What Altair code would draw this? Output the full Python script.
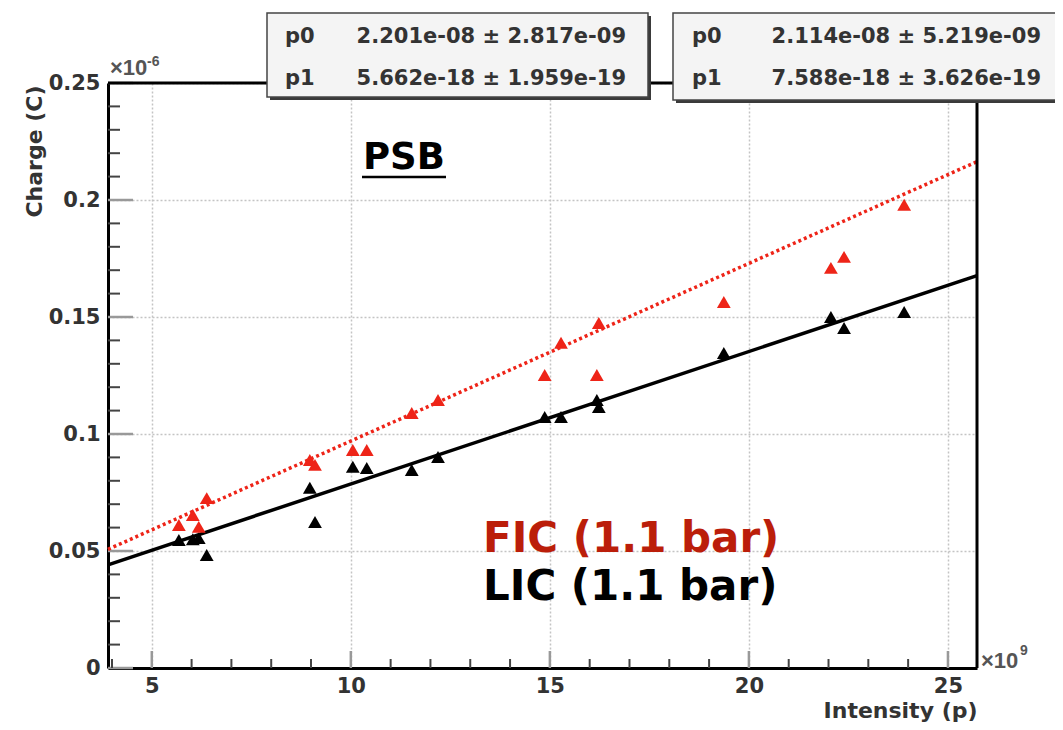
import altair as alt
import pandas as pd

# ---- data (x in 1e9 p, y in 1e-6 C) ----
intensity = [5.68, 6.03, 6.18, 6.38, 8.97, 9.10, 10.05, 10.40, 11.53, 12.19,
             14.87, 15.28, 16.18, 16.23, 19.37, 22.06, 22.39, 23.90]
lic_charge = [0.0547, 0.0550, 0.0555, 0.0483, 0.0770, 0.0624, 0.0860, 0.0855, 0.0846, 0.0902,
              0.1073, 0.1073, 0.1145, 0.1115, 0.1346, 0.1500, 0.1453, 0.1521]
fic_charge = [0.0611, 0.0654, 0.0603, 0.0726, 0.0889, 0.0868, 0.0932, 0.0932, 0.1090, 0.1145,
              0.1252, 0.1390, 0.1252, 0.1474, 0.1564, 0.1710, 0.1757, 0.1980]

fit_x = [3.9, 25.73]
lic_fit = [0.0441, 0.1677]
fic_fit = [0.0507, 0.2164]

x_domain = [3.9, 25.73]
y_domain = [0, 0.25]
x_major = [5, 10, 15, 20, 25]
y_major = [0, 0.05, 0.1, 0.15, 0.2, 0.25]
x_minor = [4, 6, 7, 8, 9, 11, 12, 13, 14, 16, 17, 18, 19, 21, 22, 23, 24]
y_minor = [0.01, 0.02, 0.03, 0.04, 0.06, 0.07, 0.08, 0.09, 0.11, 0.12, 0.13, 0.14,
           0.16, 0.17, 0.18, 0.19, 0.21, 0.22, 0.23, 0.24]

box_params = ["p0", "p1"]
lic_box_vals = ["2.201e-08 \u00b1 2.817e-09", "5.662e-18 \u00b1 1.959e-19"]
fic_box_vals = ["2.114e-08 \u00b1 5.219e-09", "7.588e-18 \u00b1 3.626e-19"]

W, H = 869, 585
FONT = "DejaVu Sans"
RED = "#ee2418"

xs = alt.Scale(domain=x_domain, nice=False, zero=False)
ys = alt.Scale(domain=y_domain, nice=False, zero=False)

X_AXIS = alt.Axis(values=x_major, format="d", titleAlign="right",
                  titleX=W, titleY=49, titleBaseline="alphabetic")
Y_AXIS = alt.Axis(values=y_major, format=".2~f", titleAngle=-90, titleAlign="right",
                  titleBaseline="middle", titleX=-74, titleY=2)

pts = pd.DataFrame({
    "x": intensity + intensity,
    "y": lic_charge + fic_charge,
    "s": ["LIC"] * len(intensity) + ["FIC"] * len(intensity),
})
lic_line = pd.DataFrame({"x": fit_x, "y": lic_fit})
fic_line = pd.DataFrame({"x": fit_x, "y": fic_fit})

one = pd.DataFrame({"a": [0]})


def X():
    return alt.X("x:Q", scale=xs, title="Intensity (p)", axis=X_AXIS)


def Y():
    return alt.Y("y:Q", scale=ys, title="Charge (C)", axis=Y_AXIS)


# inner ticks (ROOT style)
ytick_major = alt.Chart(pd.DataFrame({"y": y_major})).mark_rule(color="#999", strokeWidth=2.5).encode(
    y=Y(), x=alt.value(0), x2=alt.value(25))
ytick_minor = alt.Chart(pd.DataFrame({"y": y_minor})).mark_rule(color="#444", strokeWidth=2).encode(
    y=Y(), x=alt.value(0), x2=alt.value(12))
xtick_major = alt.Chart(pd.DataFrame({"x": x_major})).mark_rule(color="#999", strokeWidth=2.5).encode(
    x=X(), y=alt.value(H), y2=alt.value(H - 17))
xtick_minor = alt.Chart(pd.DataFrame({"x": x_minor})).mark_rule(color="#444", strokeWidth=2).encode(
    x=X(), y=alt.value(H), y2=alt.value(H - 9))

points = alt.Chart(pts).mark_point(shape="triangle-up", filled=True, size=190, opacity=1).encode(
    x=X(), y=Y(),
    color=alt.Color("s:N", scale=alt.Scale(domain=["LIC", "FIC"], range=["#000000", RED]), legend=None),
)

line_lic = alt.Chart(lic_line).mark_line(color="#000", strokeWidth=3.5).encode(x=X(), y=Y())
line_fic = alt.Chart(fic_line).mark_line(color=RED, strokeWidth=3.5, strokeDash=[3, 3]).encode(x=X(), y=Y())

frame_top = alt.Chart(one).mark_rule(color="#000", strokeWidth=3).encode(
    x=alt.value(0), x2=alt.value(W), y=alt.value(0))
frame_right = alt.Chart(one).mark_rule(color="#000", strokeWidth=3).encode(
    x=alt.value(W), y=alt.value(0), y2=alt.value(H))


def stat_box(x0, x1, y0, y1, vals, name_x, val_x):
    shadow = alt.Chart(one).mark_rect(color="#3a3a3a").encode(
        x=alt.value(x0 + 3), x2=alt.value(x1 + 3), y=alt.value(y0 + 3), y2=alt.value(y1 + 3))
    box = alt.Chart(one).mark_rect(fill="#f4f4f4", stroke="#444", strokeWidth=1.5).encode(
        x=alt.value(x0), x2=alt.value(x1), y=alt.value(y0), y2=alt.value(y1))
    layers = [shadow, box]
    for i, (p, v) in enumerate(zip(box_params, vals)):
        yb = y0 + 30 + i * 42
        layers.append(alt.Chart(one).mark_text(text=p, font=FONT, fontWeight="bold", fontSize=21,
                                               color="#333", align="left", baseline="alphabetic").encode(
            x=alt.value(name_x), y=alt.value(yb)))
        layers.append(alt.Chart(one).mark_text(text=v, font=FONT, fontWeight="bold", fontSize=21,
                                               color="#333", align="right", baseline="alphabetic").encode(
            x=alt.value(val_x), y=alt.value(yb)))
    return layers


box1 = stat_box(159, 540, -70, 14, lic_box_vals, 177, 518)
box2 = stat_box(565, 955, -70, 17, fic_box_vals, 584, 933)

psb = alt.Chart(one).mark_text(text="PSB", font="DejaVu Sans", fontWeight="bold", fontSize=37,
                               color="#000", align="left", baseline="alphabetic").encode(
    x=alt.value(255), y=alt.value(86))
psb_ul = alt.Chart(one).mark_rule(color="#000", strokeWidth=2.5).encode(
    x=alt.value(254), x2=alt.value(338), y=alt.value(94))
fic_lbl = alt.Chart(one).mark_text(text="FIC (1.1 bar)", font="DejaVu Sans", fontWeight="bold", fontSize=42,
                                   color="#bb1e0a", align="left", baseline="alphabetic").encode(
    x=alt.value(375), y=alt.value(469))
lic_lbl = alt.Chart(one).mark_text(text="LIC (1.1 bar)", font="DejaVu Sans", fontWeight="bold", fontSize=42,
                                   color="#000", align="left", baseline="alphabetic").encode(
    x=alt.value(375), y=alt.value(517))

EXPF = "Liberation Sans"
exp_y = alt.Chart(one).mark_text(text="\u00d710", font=EXPF, fontWeight="bold", fontSize=22, color="#555",
                                 align="left", baseline="alphabetic").encode(x=alt.value(2), y=alt.value(-8))
exp_y2 = alt.Chart(one).mark_text(text="-6", font=EXPF, fontWeight="bold", fontSize=14, color="#555",
                                  align="left", baseline="alphabetic").encode(x=alt.value(39), y=alt.value(-17))
exp_x = alt.Chart(one).mark_text(text="\u00d710", font=EXPF, fontWeight="bold", fontSize=22, color="#555",
                                 align="left", baseline="alphabetic").encode(x=alt.value(873), y=alt.value(585))
exp_x2 = alt.Chart(one).mark_text(text="9", font=EXPF, fontWeight="bold", fontSize=14, color="#555",
                                  align="left", baseline="alphabetic").encode(x=alt.value(912), y=alt.value(572))

chart = alt.layer(
    ytick_major, ytick_minor, xtick_major, xtick_minor,
    line_fic, line_lic, points,
    frame_top, frame_right,
    *box1, *box2,
    psb, psb_ul, fic_lbl, lic_lbl,
    exp_y, exp_y2, exp_x, exp_x2,
).properties(
    width=W, height=H,
    autosize=alt.AutoSizeParams(type="none"),
    padding={"left": 100, "top": 75, "right": 78, "bottom": 54},
).configure_view(
    stroke="transparent",
).configure_axis(
    domainColor="#000", domainWidth=3, ticks=False, tickSize=0,
    grid=True, gridColor="#c4c4c4", gridDash=[2, 2], gridWidth=1.5,
    labelFont=FONT, labelFontWeight="bold", labelFontSize=21, labelColor="#333",
    titleFont=FONT, titleFontWeight="bold", titleFontSize=22, titleColor="#333",
).configure_axisX(
    labelPadding=7,
).configure_axisY(
    labelPadding=8,
)

chart.save("out.html", embed_options={"renderer": "svg", "actions": False})
